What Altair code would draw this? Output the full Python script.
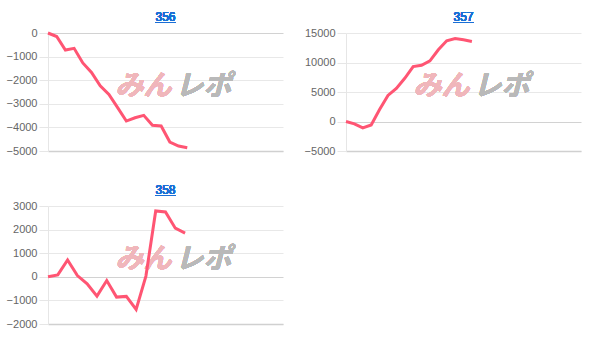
import altair as alt
import pandas as pd

# ---- data ----
titles = ["356", "357", "358"]
values_356 = [0, -150, -720, -650, -1270, -1670, -2240, -2600, -3160, -3730,
              -3590, -3490, -3910, -3940, -4620, -4790, -4860]
values_357 = [0, -400, -1080, -580, 2040, 4430, 5620, 7320, 9300, 9540,
              10270, 12150, 13680, 14070, 13850, 13560]
values_358 = [0, 80, 710, 50, -300, -820, -160, -860, -830, -1380,
              30, 2790, 2750, 2060, 1850]
x_max = [27, 28, 24]
y_domains = [(-5000, 0), (-5000, 15000), (-2000, 3000)]
y_ticks = [[0, -1000, -2000, -3000, -4000, -5000],
           [15000, 10000, 5000, 0, -5000],
           [3000, 2000, 1000, 0, -1000, -2000]]
series = [values_356, values_357, values_358]

LINE = "#ff5573"
LINK = "#1a6fd6"
W, H = 235, 118


def panel(i):
    vals = series[i]
    df = pd.DataFrame({"x": list(range(len(vals))), "y": vals})
    base = alt.Chart(df)
    line = base.mark_line(color=LINE, strokeWidth=3, interpolate="linear").encode(
        x=alt.X("x:Q", scale=alt.Scale(domain=[0, x_max[i]], nice=False, zero=False),
                axis=alt.Axis(labels=False, ticks=False, grid=False, title=None,
                              domainColor="#d0d0d0", domainWidth=1.5)),
        y=alt.Y("y:Q", scale=alt.Scale(domain=list(y_domains[i]), nice=False),
                axis=alt.Axis(values=y_ticks[i], format="d", title=None,
                              labelColor="#666666",
                              labelFont="Liberation Sans", labelFontSize=11,
                              labelPadding=2, tickSize=9, tickColor="#e6e6e6",
                              gridColor={"condition": {"test": "datum.value === 0",
                                                       "value": "#d2d2d2"},
                                         "value": "#e8e8e8"},
                              domainColor="#e6e6e6")),
    )
    wm1 = base.mark_text(text="みん", font="Noto Sans CJK JP", fontSize=28,
                         fontWeight="bold", fontStyle="italic", color="#f0b6bb",
                         align="right", baseline="middle").encode(
        x=alt.value(W / 2 + 6), y=alt.value(H / 2 - 5))
    wm2 = base.mark_text(text="レポ", font="Noto Sans CJK JP", fontSize=28,
                         fontWeight="bold", fontStyle="italic", color="#b9b9b9",
                         align="left", baseline="middle").encode(
        x=alt.value(W / 2 + 10), y=alt.value(H / 2 - 5))
    title = base.mark_text(text=titles[i], font="Liberation Sans", fontSize=12,
                           fontWeight="normal", color=LINK, align="center",
                           baseline="alphabetic").encode(
        x=alt.value(W / 2), y=alt.value(-12))
    underline = base.mark_rule(color=LINK, strokeWidth=1, clip=False).encode(
        x=alt.value(W / 2 - 10), x2=alt.value(W / 2 + 10), y=alt.value(-10.5))
    return alt.layer(wm1, wm2, line, title, underline).properties(width=W, height=H)


top = alt.hconcat(panel(0), panel(1), spacing=21)
chart = alt.vconcat(top, panel(2), spacing=28).properties(
    padding={"left": 6, "top": 11, "right": 5, "bottom": 5}
).configure_view(stroke=None)

chart.save("out.html", embed_options={"renderer": "svg", "actions": False})
